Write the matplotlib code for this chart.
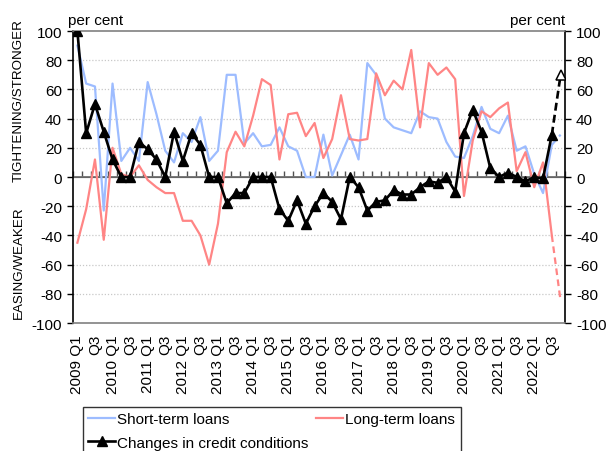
import matplotlib
matplotlib.use('Agg')
import matplotlib.pyplot as plt
import numpy as np
from matplotlib.lines import Line2D

plt.rcParams['font.family'] = ['Liberation Sans', 'DejaVu Sans']

years = list(range(2009, 2023))
quarters = [f"{y} Q{q}" for y in years for q in range(1, 5)]
tick_labels = [f"{y} Q1" if q == 1 else ("Q3" if q == 3 else "") for y in years for q in range(1, 5)]

short_term = [90, 64, 62, -23, 64, 11, 20, 11, 65, 43, 18, 10, 30, 24, 41, 11,
              18, 70, 70, 23, 30, 21, 22, 34, 21, 18, 0, 0, 29, 1, 15, 29,
              12, 78, 70, 40, 34, 32, 30, 45, 41, 40, 24, 14, 13, 28, 48, 33,
              30, 42, 18, 21, 2, -11, 22, 29]
long_term = [-45, -22, 12, -43, 20, 2, 0, 8, -2, -7, -11, -11, -30, -30, -40, -60,
             -32, 17, 31, 21, 42, 67, 63, 12, 43, 44, 28, 37, 13, 26, 56, 26,
             25, 26, 71, 56, 66, 60, 87, 34, 78, 70, 75, 67, -13, 25, 45, 41,
             47, 51, 4, 17, -7, 10, -40, -85]
credit = [100, 30, 50, 31, 12, 0, 0, 24, 19, 12, 0, 31, 11, 30, 22, 0,
          0, -18, -11, -11, 0, 0, 0, -22, -30, -16, -32, -20, -11, -17, -29, 0,
          -7, -23, -17, -16, -9, -12, -12, -7, -3, -4, 0, -10, 30, 46, 31, 6,
          0, 3, 0, -3, 0, -1, 29, 70]

n = len(quarters)
x = np.arange(n)
split = n - 2  # last actual observation; final point is an expectation

BLUE = '#9dbcff'
RED = '#ff8585'

fig = plt.figure(figsize=(6.14, 4.52), dpi=100)
ax = fig.add_axes([73/614, 1-324/452, (565-73)/614, (324-32)/452])

ax.plot(x[:split+1], short_term[:split+1], color=BLUE, lw=1.6, zorder=3)
ax.plot(x[split:], short_term[split:], color=BLUE, lw=1.6, ls=(0, (3, 2)), zorder=3)
ax.plot(x[:split+1], long_term[:split+1], color=RED, lw=1.6, zorder=4)
ax.plot(x[split:], long_term[split:], color=RED, lw=1.6, ls=(0, (3, 2)), zorder=4)
ax.plot(x[:split+1], credit[:split+1], color='black', lw=1.9, marker='^', ms=6.5, zorder=5)
ax.plot(x[split:], credit[split:], color='black', lw=1.9, ls=(0, (3, 1.6)), zorder=5)
ax.plot(x[-1:], credit[-1:], ls='none', marker='^', ms=6.5, mfc='white', mec='black', mew=1.1, zorder=6)

ax.set_xlim(-0.5, n - 0.5)
ax.set_ylim(-100, 100)
yt = np.arange(-100, 101, 20)
ax.set_yticks(yt)
ax.set_yticklabels([str(v) for v in yt], fontsize=11)
ax.tick_params(axis='y', direction='out', length=4, width=1, pad=4)
for v in yt[1:-1]:
    if v != 0:
        ax.axhline(v, color='#c8c8c8', lw=0.9, ls=(0, (1, 1.5)), zorder=1)

ax.set_xticks(x)
ax.set_xticklabels(tick_labels, rotation=90, fontsize=11)
ax.tick_params(axis='x', length=0, pad=8)

for s in ['top', 'bottom']:
    ax.spines[s].set_color('#808080')
    ax.spines[s].set_linewidth(1.2)
for s in ['left', 'right']:
    ax.spines[s].set_color('black')
    ax.spines[s].set_linewidth(1.2)

# zero axis line with category boundary ticks
ax.axhline(0, color='#707070', lw=1.3, zorder=2)
sec = ax.secondary_xaxis(0.5)
sec.set_xticks(np.arange(-0.5, n, 1.0))
sec.set_xticklabels([])
sec.tick_params(direction='out', length=4, width=1, colors='#505050')
sec.spines['bottom'].set_visible(False)

ax2 = ax.twinx()
ax2.set_ylim(-100, 100)
ax2.set_yticks(yt)
ax2.set_yticklabels([str(v) for v in yt], fontsize=11)
ax2.tick_params(axis='y', direction='out', length=4, width=1, pad=4)
for s in ax2.spines.values():
    s.set_visible(False)

ax.text(-0.01, 1.012, 'per cent', transform=ax.transAxes, fontsize=11, ha='left', va='bottom')
ax.text(1.0, 1.012, 'per cent', transform=ax.transAxes, fontsize=11, ha='right', va='bottom')

fig.text(19/614, 1 - 101/452, 'TIGHTENING/STRONGER', rotation=90,
         ha='center', va='center', fontsize=9.6)
fig.text(19/614, 1 - 263/452, 'EASING/WEAKER', rotation=90,
         ha='center', va='center', fontsize=9.6)

handles = [Line2D([], [], color=BLUE, lw=1.6),
           Line2D([], [], color='black', lw=1.9, marker='^', ms=6.5),
           Line2D([], [], color=RED, lw=1.6)]
labels = ['Short-term loans', 'Changes in credit conditions', 'Long-term loans']
leg = fig.legend(handles, labels, ncol=2, loc='upper left', bbox_to_anchor=(83/614, 1-408/452),
                 fontsize=11, frameon=True, fancybox=False, edgecolor='black', borderpad=0.35,
                 handlelength=1.75, handletextpad=0.15, columnspacing=0.5, labelspacing=0.6,
                 borderaxespad=0)
leg.get_frame().set_linewidth(1.0)

fig.savefig('out.png', dpi=100)
